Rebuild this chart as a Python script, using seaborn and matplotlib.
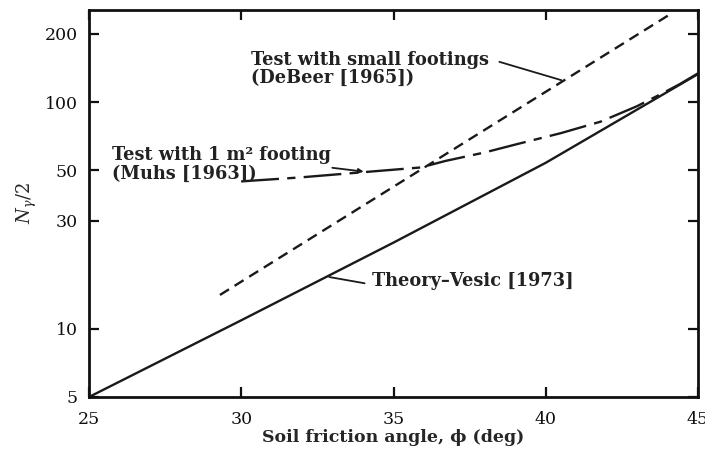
import matplotlib
matplotlib.use("Agg")
import matplotlib.pyplot as plt
import seaborn as sns
import pandas as pd
from matplotlib.ticker import FixedLocator, FixedFormatter, NullLocator

# Bearing capacity factor N_gamma/2 versus soil friction angle
phi_vesic = [25, 30, 35, 40, 45]
ng_vesic = [5.0, 10.9, 24.0, 54.0, 133.0]

phi_debeer = [29.3, 44.1]
ng_debeer = [14.1, 245.0]

phi_muhs = [30.0, 31.9, 34.1, 35.9, 36.7, 38.0, 39.1, 40.5, 41.8, 43.0, 43.75, 44.4, 45.0]
ng_muhs = [44.7, 46.5, 49.2, 51.5, 55.0, 60.0, 65.5, 73.0, 82.0, 96.0, 108.0, 120.0, 134.0]

y_ticks = [5, 10, 30, 50, 100, 200]
x_ticks = [25, 30, 35, 40, 45]

names = ["Theory", "DeBeer", "Muhs"]
df = pd.concat([
    pd.DataFrame({"phi": phi_vesic, "ng": ng_vesic, "series": names[0]}),
    pd.DataFrame({"phi": phi_debeer, "ng": ng_debeer, "series": names[1]}),
    pd.DataFrame({"phi": phi_muhs, "ng": ng_muhs, "series": names[2]}),
], ignore_index=True)

sns.set_style("ticks")
plt.rcParams["font.family"] = ["DejaVu Serif"]
plt.rcParams["mathtext.fontset"] = "dejavuserif"

fig = plt.figure(figsize=(7.05, 4.49), dpi=100)
ax = fig.add_axes([89 / 705, 1 - 397 / 449, (698 - 89) / 705, (397 - 10) / 449])

sns.lineplot(
    data=df, x="phi", y="ng", hue="series", style="series",
    palette={n: "#1a1a1a" for n in names},
    dashes={"Theory": "", "DeBeer": (4.5, 2.8), "Muhs": (16, 3.5, 3.5, 3.5)},
    linewidth=1.7, sort=False, estimator=None, legend=False, ax=ax,
)

ax.set_yscale("log")
ax.set_xlim(25, 45)
ax.set_ylim(5, 255)
ax.yaxis.set_major_locator(FixedLocator(y_ticks))
ax.yaxis.set_major_formatter(FixedFormatter([str(t) for t in y_ticks]))
ax.yaxis.set_minor_locator(NullLocator())
ax.set_xticks(x_ticks)
ax.set_xticklabels([str(t) for t in x_ticks])

for s in ax.spines.values():
    s.set_linewidth(2.0)
    s.set_color("#111111")
ax.tick_params(axis="both", which="major", direction="in", length=7, width=1.6,
               top=True, right=True, labelsize=12.5, colors="#111111")
ax.tick_params(axis="y", pad=8)
ax.tick_params(axis="x", pad=10)

ax.set_xlabel("Soil friction angle, \u03d5 (deg)", fontsize=12.5, fontweight="bold", labelpad=1)
ax.set_ylabel(r"$N_{\gamma}/2$", fontsize=13, labelpad=4)

tk = dict(fontsize=12.8, fontweight="bold", color="#222222", va="center", ha="left",
          linespacing=1.05)
ax.text(30.33, 140, "Test with small footings\n(DeBeer [1965])", **tk)
ax.text(25.76, 53.2, "Test with 1 m\u00b2 footing\n(Muhs [1963])", **tk)
ax.text(34.28, 16.2, "Theory\u2013Vesic [1973]", **tk)

# Leader lines from the labels to their curves
line_kw = dict(arrowstyle="-", color="#1a1a1a", lw=1.3)
ax.annotate("", xy=(40.6, 124), xytext=(38.39, 151.8), arrowprops=line_kw)
ax.annotate("", xy=(34.11, 49.2), xytext=(32.9, 51.5),
            arrowprops=dict(arrowstyle="-|>", color="#1a1a1a", lw=1.3, mutation_scale=7))
ax.annotate("", xy=(32.8, 17.0), xytext=(34.14, 15.8), arrowprops=line_kw)

fig.savefig("out.png", dpi=100)
